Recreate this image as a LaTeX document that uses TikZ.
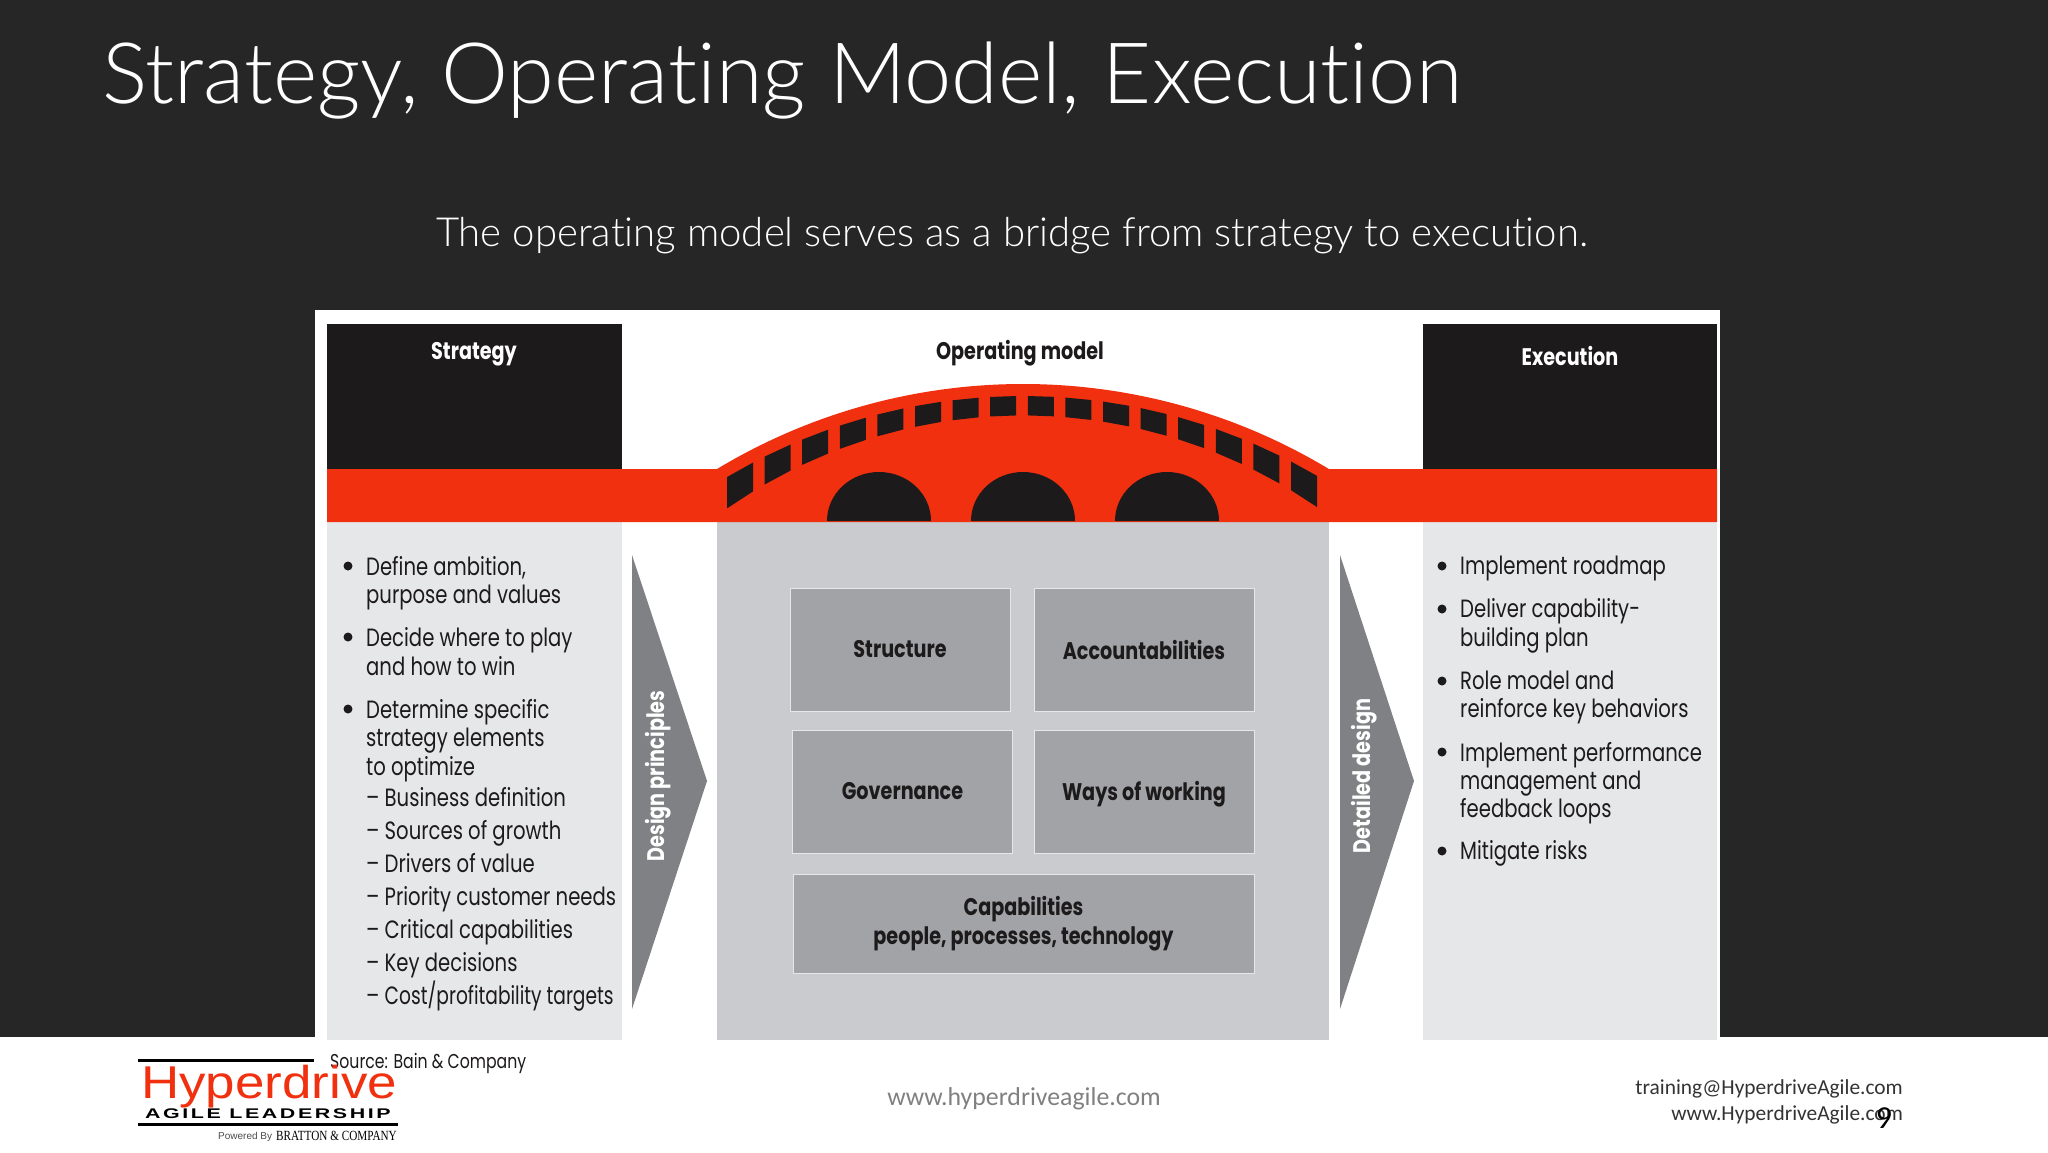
\documentclass[tikz,border=0pt]{standalone}
\usepackage{fontspec}
\setmainfont[Ligatures=NoCommon]{Carlito}
\newfontfamily\titlefont[Ligatures=NoCommon]{Lato Light}
\newfontfamily\chartfont[FakeStretch=0.785,BoldFeatures={FakeStretch=0.8}]{Poppins}
\newfontfamily\logofont{Liberation Sans}
\newfontfamily\logowide[LetterSpace=12]{Liberation Sans}
\newfontfamily\serifcaps{Liberation Serif}
\definecolor{slide}{HTML}{262626}
\definecolor{bridgered}{HTML}{F0300E}
\definecolor{nearblack}{HTML}{1D1A1B}
\definecolor{sidegray}{HTML}{E6E7E9}
\definecolor{midgray}{HTML}{C9CBCE}
\definecolor{boxgray}{HTML}{A1A3A6}
\definecolor{arrowgray}{HTML}{7F8184}
\tikzset{
  listtext/.style={anchor=base west,inner sep=0pt,text=nearblack,font=\chartfont\fontsize{25}{29}\selectfont},
  listdot/.style={circle,fill=nearblack,inner sep=0pt,minimum size=9pt},
  headtext/.style={inner sep=0pt,font=\chartfont\bfseries\fontsize{24}{29}\selectfont},
  innerbox/.style={draw=sidegray,line width=1pt,fill=boxgray,inner sep=0pt,text=nearblack,align=center,font=\chartfont\bfseries\fontsize{24}{29}\selectfont},
  sidetext/.style={rotate=90,inner sep=0pt,text=white,font=\chartfont\bfseries\fontsize{24}{29}\selectfont},
  foottext/.style={inner sep=0pt,font=\fontsize{25.8}{30}\selectfont}
}
\begin{document}
\begin{tikzpicture}[x=1pt,y=-1pt]
  \useasboundingbox (0,0) rectangle (2048,1152);
  \fill[white] (0,0) rectangle (2048,1152);
  \fill[slide] (0,0) rectangle (2048,1037);
  \fill[white] (315,310) rectangle (1720,1037);
  % titles
  \node[anchor=base west,inner sep=0pt,text=white,font=\titlefont\fontsize{84.7}{96}\selectfont] (title) at (102,103) {Strategy, Operating Model, Execution};
  \node[inner sep=0pt,text=white,font=\titlefont\fontsize{40.1}{48}\selectfont] (subtitle) at (1012,236) {The operating model serves as a bridge from strategy to execution.};
  % panels
  \fill[nearblack] (327,324) rectangle (622,470);
  \fill[nearblack] (1423,324) rectangle (1717,470);
  \fill[sidegray] (327,522) rectangle (622,1040);
  \fill[sidegray] (1423,522) rectangle (1717,1040);
  \fill[midgray] (717,522) rectangle (1329,1040);
  % bridge
  \fill[bridgered] (327,469) -- (717,469) arc[start angle=121.06,end angle=58.94,radius=593pt] -- (1717,469) -- (1717,522) -- (327,522) -- cycle;
  \foreach \xleft in {727,764.6,...,1292} {
    \pgfmathsetmacro{\dl}{(\xleft-1023)/100}
    \pgfmathsetmacro{\dr}{(\xleft+26-1023)/100}
    \pgfmathsetmacro{\xright}{\xleft+26}
    \pgfmathsetmacro{\ytopl}{977-100*sqrt((5.81-\dl)*(5.81+\dl))}
    \pgfmathsetmacro{\ytopr}{977-100*sqrt((5.81-\dr)*(5.81+\dr))}
    \pgfmathsetmacro{\ybotl}{933-100*sqrt((5.176-\dl)*(5.176+\dl))}
    \pgfmathsetmacro{\ybotr}{933-100*sqrt((5.176-\dr)*(5.176+\dr))}
    \fill[nearblack] (\xleft,\ytopl) -- (\xright,\ytopr) -- (\xright,\ybotr) -- (\xleft,\ybotl) -- cycle;
  }
  \foreach \xleft in {827,971,1115} {
    \fill[nearblack] (\xleft,521) arc[start angle=180,end angle=0,x radius=52pt,y radius=49pt] -- cycle;
  }
  % heads
  \node[headtext,text=white] (strategy) at (474,354) {Strategy};
  \node[headtext,text=nearblack] (opmodel) at (1020,353) {Operating model};
  \node[headtext,text=white] (execution) at (1570,356) {Execution};
  % arrows
  \fill[arrowgray] (632,555) -- (707,781) -- (632,1009) -- cycle;
  \fill[arrowgray] (1340,555) -- (1414,781) -- (1340,1009) -- cycle;
  \node[sidetext] (designp) at (658,776) {Design principles};
  \node[sidetext] (detailed) at (1364,776) {Detailed design};
  % boxes
  \node[innerbox,minimum width=220pt,minimum height=123pt] (structure) at (900,649.5) {Structure};
  \node[innerbox,minimum width=220pt,minimum height=123pt] (account) at (1144,649.5) {Accountabilities};
  \node[innerbox,minimum width=220pt,minimum height=123pt] (govern) at (902.5,791.5) {Governance};
  \node[innerbox,minimum width=220pt,minimum height=123pt,text height=23pt,text depth=5.5pt] (ways) at (1144,791.5) {Ways of working};
  \node[innerbox,minimum width=461pt,minimum height=99pt] (capab) at (1023.5,923.5) {Capabilities\\people, processes, technology};
  % left list
  \foreach \ypos/\txt [count=\n] in {575/Define ambition{,},603/purpose and values,646/Decide where to play,675/and how to win,718/Determine specific,746/strategy elements,775/to optimize}
    \node[listtext] (left\n) at (366,\ypos) {\txt};
  \foreach \ypos/\txt [count=\n] in {806/Business definition,839/Sources of growth,872/Drivers of value,905/Priority customer needs,938/Critical capabilities,971/Key decisions,1004/{\scalebox{0.95}[1]{Cost/profitability targets}}}
    \node[listtext] (sub\n) at (366,\ypos) {– \txt};
  \foreach \ypos [count=\n] in {566,637,709}
    \node[listdot] (leftdot\n) at (348,\ypos) {};
  % right list
  \foreach \ypos/\txt [count=\n] in {574/Implement roadmap,617/Deliver capability-,646/building plan,689/Role model and,717/reinforce key behaviors,761/Implement performance,789/management and,817/feedback loops,859/Mitigate risks}
    \node[listtext] (right\n) at (1460,\ypos) {\txt};
  \foreach \ypos [count=\n] in {566,609,681,752,851}
    \node[listdot] (rightdot\n) at (1442,\ypos) {};
  % footer
  \node[anchor=base west,inner sep=0pt,text=nearblack,font=\chartfont\fontsize{20}{24}\selectfont] (source) at (330,1068) {Source: Bain \& Company};
  \node[foottext,text=black!50] (web) at (1024,1099) {www.hyperdriveagile.com};
  \node[anchor=base east,inner sep=0pt,text=black!80,font=\fontsize{21.4}{25}\selectfont] (mail) at (1903,1094) {training@HyperdriveAgile.com};
  \node[anchor=base east,inner sep=0pt,text=black!80,font=\fontsize{21.4}{25}\selectfont] (site) at (1903,1120) {www.HyperdriveAgile.com};
  \node[anchor=base,inner sep=0pt,text=black,font=\fontsize{32}{36}\selectfont] (pagenum) at (1884,1128) {9};
  % logo
  \fill[black] (138,1059) rectangle (314,1062);
  \fill[black] (138,1122.5) rectangle (398,1125.5);
  \node[anchor=base west,inner sep=0pt,text=bridgered,font=\logofont\fontsize{46}{50}\selectfont] (hyper) at (141,1098) {\scalebox{1.15}[1]{Hyperdrive}};
  \node[anchor=base west,inner sep=0pt,text=black,font=\logowide\bfseries\fontsize{14}{18}\selectfont] (agile) at (145,1118) {\scalebox{1.53}[1]{AGILE LEADERSHIP}};
  \node[anchor=base west,inner sep=0pt,text=black!70,font=\logofont\fontsize{10}{12}\selectfont] (powered) at (218,1139) {Powered By};
  \node[anchor=base east,inner sep=0pt,text=black,font=\serifcaps\fontsize{14}{16}\selectfont] (bratton) at (397,1140) {\scalebox{0.8}[1]{BRATTON \& COMPANY}};
\end{tikzpicture}
\end{document}
